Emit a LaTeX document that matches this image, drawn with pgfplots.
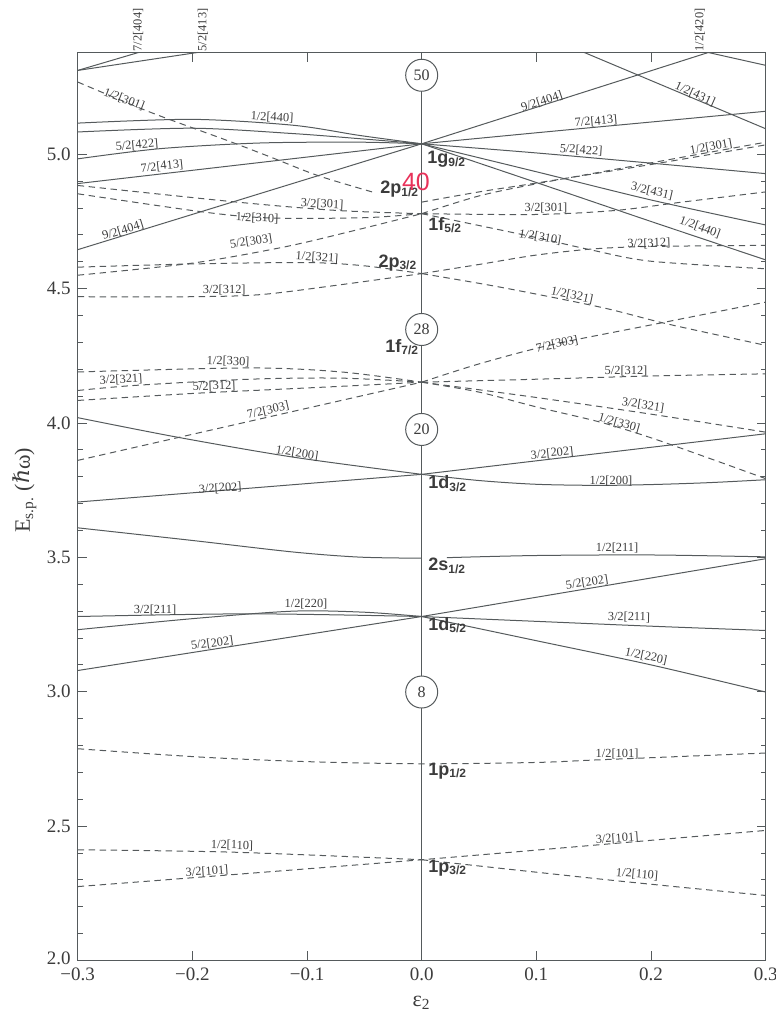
\documentclass[border=0pt]{standalone}
\usepackage{fontspec}
\setmainfont{Liberation Serif}
\newfontfamily\sansf{Liberation Sans}
\newfontfamily\dvs{DejaVu Serif}
\usepackage{pgfplots}
\pgfplotsset{compat=1.18}
\definecolor{lc}{RGB}{85,90,92}
\definecolor{tc}{RGB}{60,60,60}
\definecolor{rd}{RGB}{232,50,90}
\pgfplotsset{
  lv/.style={lc, line width=0.5pt, no marks, smooth},
  dv/.style={lv, dash pattern=on 3.2pt off 2.3pt},
}
\tikzset{
  nl/.style={font=\fontsize{6.2}{7}\selectfont, text=tc, inner sep=0.5pt},
  sl/.style={font=\sansf\bfseries\fontsize{9}{10}\selectfont, text=tc, inner sep=0pt, anchor=base west},
  mg/.style={circle, draw=lc, line width=0.5pt, fill=white, minimum size=16pt, inner sep=0pt, font=\fontsize{8}{9}\selectfont, text=tc},
}
\begin{document}
\begin{tikzpicture}
\begin{axis}[
  scale only axis, width=344pt, height=453.9pt,
  xmin=-0.3, xmax=0.3, ymin=2.0, ymax=5.378,
  clip mode=individual,
  axis line style={lc, line width=0.5pt},
  tick style={lc, line width=0.5pt},
  xtick={-0.3,-0.2,-0.1,0,0.1,0.2,0.3},
  xticklabels={−0.3,−0.2,−0.1,0.0,0.1,0.2,0.3},
  ytick={2.0,2.5,3.0,3.5,4.0,4.5,5.0},
  yticklabels={\raisebox{2.5pt}{2.0},2.5,3.0,3.5,4.0,4.5,5.0},
  minor y tick num=4,
  tick align=inside, tick pos=both,
  xticklabel pos=lower, yticklabel pos=left,
  major tick length=4.5pt, minor tick length=2.5pt,
  ticklabel style={font=\fontsize{9.5}{10}\selectfont, text=tc},
  xlabel={ε\textsubscript{2}},
  ylabel={E\textsubscript{s.p.} ({\dvs ℏ}ω)},
  label style={font=\fontsize{11}{12}\selectfont, text=tc},
  xlabel style={at={(axis description cs:0.5,-0.047)}, anchor=center},
  ylabel style={at={(axis description cs:-0.077,0.518)}, anchor=center},
]
% center line
\addplot[lv] coordinates {(0,2) (0,5.378)};
% ---- solid levels ----
\addplot[lv] coordinates {(-0.3,5.312) (-0.2,5.438)};
\addplot[lv] coordinates {(-0.3,5.312) (-0.15,5.408)};
\addplot[lv] coordinates {(-0.3,5.116) (-0.2,5.13) (-0.112,5.108) (-0.054,5.07) (0,5.039)};
\addplot[lv] coordinates {(-0.3,5.083) (-0.2,5.097) (-0.112,5.077) (-0.054,5.058) (0,5.039)};
\addplot[lv] coordinates {(-0.3,4.983) (-0.228,5.021) (-0.141,5.042) (-0.054,5.045) (0,5.039)};
\addplot[lv] coordinates {(-0.3,4.891) (0,5.039)};
\addplot[lv] coordinates {(-0.3,4.645) (0,5.039)};
\addplot[lv] coordinates {(0,5.039) (0.27,5.406)};
\addplot[lv] coordinates {(0.13,5.40) (0.3,5.095)};
\addplot[lv] coordinates {(0.235,5.393) (0.3,5.331)};
\addplot[lv] coordinates {(0,5.039) (0.1,5.08) (0.2,5.12) (0.3,5.16)};
\addplot[lv] coordinates {(0,5.039) (0.1,5.005) (0.2,4.967) (0.3,4.928)};
\addplot[lv] coordinates {(0,5.039) (0.1,4.935) (0.2,4.83) (0.3,4.737)};
\addplot[lv] coordinates {(0,5.039) (0.1,4.895) (0.2,4.75) (0.3,4.607)};
\addplot[lv] coordinates {(-0.3,4.02) (-0.214,3.948) (-0.112,3.873) (0,3.809)};
\addplot[lv] coordinates {(-0.3,3.706) (0,3.809)};
\addplot[lv] coordinates {(0,3.809) (0.3,3.96)};
\addplot[lv] coordinates {(0,3.809) (0.05,3.786) (0.1,3.772) (0.155,3.768) (0.2,3.771) (0.25,3.778) (0.3,3.789)};
\addplot[lv] coordinates {(-0.3,3.61) (-0.2,3.563) (-0.112,3.52) (-0.054,3.501) (0,3.497)};
\addplot[lv] coordinates {(0.022,3.499) (0.1,3.507) (0.2,3.509) (0.3,3.502)};
\addplot[lv] coordinates {(-0.3,3.28) (-0.15,3.29) (0,3.28)};
\addplot[lv] coordinates {(-0.3,3.231) (-0.2,3.272) (-0.112,3.30) (-0.05,3.296) (0,3.28)};
\addplot[lv] coordinates {(-0.3,3.079) (0,3.28)};
\addplot[lv] coordinates {(0,3.28) (0.3,3.495)};
\addplot[lv] coordinates {(0,3.28) (0.1,3.262) (0.2,3.244) (0.3,3.228)};
\addplot[lv] coordinates {(0,3.28) (0.1,3.19) (0.2,3.10) (0.3,2.999)};
% ---- dashed levels ----
\addplot[dv] coordinates {(-0.3,5.269) (-0.237,5.157) (-0.17,5.052) (-0.132,4.99) (-0.09,4.92) (-0.04,4.856)};
\addplot[dv] coordinates {(-0.3,4.884) (-0.161,4.822) (-0.074,4.791) (0,4.779)};
\addplot[dv] coordinates {(-0.3,4.853) (-0.19,4.785) (-0.132,4.763) (-0.05,4.764) (0,4.779)};
\addplot[dv] coordinates {(-0.3,4.55) (-0.2,4.595) (-0.12,4.655) (-0.06,4.715) (0,4.779)};
\addplot[dv] coordinates {(-0.3,4.58) (-0.2,4.592) (-0.1,4.597) (-0.05,4.585) (0,4.556)};
\addplot[dv] coordinates {(-0.3,4.47) (-0.2,4.47) (-0.14,4.478) (-0.07,4.515) (0,4.556)};
\addplot[dv] coordinates {(0,4.822) (0.05,4.86) (0.1,4.893) (0.2,4.962) (0.3,5.035)};
\addplot[dv] coordinates {(0,4.779) (0.05,4.845) (0.1,4.89) (0.2,4.968) (0.3,5.045)};
\addplot[dv] coordinates {(0,4.779) (0.1,4.776) (0.169,4.791) (0.227,4.822) (0.3,4.86)};
\addplot[dv] coordinates {(0,4.779) (0.05,4.735) (0.1,4.69) (0.15,4.642) (0.2,4.602) (0.3,4.574)};
\addplot[dv] coordinates {(0,4.556) (0.05,4.59) (0.1,4.625) (0.15,4.648) (0.2,4.657) (0.3,4.661)};
\addplot[dv] coordinates {(0,4.556) (0.068,4.506) (0.156,4.431) (0.214,4.369) (0.3,4.289)};
\addplot[dv] coordinates {(-0.3,4.19) (-0.15,4.205) (-0.07,4.19) (0,4.152)};
\addplot[dv] coordinates {(-0.3,4.121) (-0.25,4.14) (-0.15,4.163) (-0.07,4.167) (0,4.152)};
\addplot[dv] coordinates {(-0.3,4.084) (-0.2,4.11) (-0.132,4.124) (-0.054,4.14) (0,4.152)};
\addplot[dv] coordinates {(-0.3,3.861) (0,4.152)};
\addplot[dv] coordinates {(0,4.152) (0.05,4.22) (0.112,4.29) (0.2,4.365) (0.3,4.45)};
\addplot[dv] coordinates {(0,4.152) (0.1,4.163) (0.2,4.175) (0.3,4.183)};
\addplot[dv] coordinates {(0,4.152) (0.1,4.095) (0.2,4.033) (0.3,3.966)};
\addplot[dv] coordinates {(0,4.152) (0.05,4.115) (0.1,4.06) (0.156,4.003) (0.2,3.945) (0.25,3.87) (0.3,3.793)};
\addplot[dv] coordinates {(-0.3,2.788) (-0.193,2.757) (-0.1,2.74) (0,2.732) (0.1,2.737) (0.156,2.747) (0.3,2.772)};
\addplot[dv] coordinates {(-0.3,2.412) (-0.164,2.403) (0,2.375)};
\addplot[dv] coordinates {(0,2.375) (0.167,2.298) (0.3,2.242)};
\addplot[dv] coordinates {(-0.3,2.275) (0,2.375) (0.3,2.484)};
% ---- magic number circles ----
\node[mg] at (axis cs:0,5.294) {50};
\node[mg] at (axis cs:0,4.348) {28};
\node[mg] at (axis cs:0,3.976) {20};
\node[mg] at (axis cs:0,2.999) {8};
% ---- top labels ----
\node[nl, rotate=90, anchor=west, yshift=1pt] at (axis cs:-0.2456,5.378) {7/2[404]};
\node[nl, rotate=90, anchor=west, yshift=1pt] at (axis cs:-0.189,5.378) {5/2[413]};
\node[nl, rotate=90, anchor=west, yshift=1pt] at (axis cs:0.2444,5.378) {1/2[420]};
% ---- left labels ----
\node[nl, rotate=-21] at (axis cs:-0.2596,5.204) {1/2[301]};
\node[nl, rotate=-3] at (axis cs:-0.1305,5.137) {1/2[440]};
\node[nl, rotate=5] at (axis cs:-0.2483,5.033) {5/2[422]};
\node[nl, rotate=6] at (axis cs:-0.2265,4.955) {7/2[413]};
\node[nl, rotate=17] at (axis cs:-0.2605,4.717) {9/2[404]};
\node[nl, rotate=-3] at (axis cs:-0.0869,4.814) {3/2[301]};
\node[nl, rotate=-2] at (axis cs:-0.1436,4.762) {1/2[310]};
\node[nl, rotate=9] at (axis cs:-0.1488,4.676) {5/2[303]};
\node[nl, rotate=-4] at (axis cs:-0.0913,4.616) {1/2[321]};
\node[nl] at (axis cs:-0.1722,4.494) {3/2[312]};
\node[nl, rotate=-2] at (axis cs:-0.1688,4.229) {1/2[330]};
\node[nl, rotate=3] at (axis cs:-0.2622,4.162) {3/2[321]};
\node[nl, rotate=2] at (axis cs:-0.181,4.136) {5/2[312]};
\node[nl, rotate=13] at (axis cs:-0.1339,4.047) {7/2[303]};
\node[nl, rotate=-9] at (axis cs:-0.1087,3.887) {1/2[200]};
\node[nl, rotate=4] at (axis cs:-0.1757,3.757) {3/2[202]};
\node[nl] at (axis cs:-0.2325,3.303) {3/2[211]};
\node[nl] at (axis cs:-0.1009,3.325) {1/2[220]};
\node[nl, rotate=8] at (axis cs:-0.1827,3.180) {5/2[202]};
\node[nl, rotate=-1] at (axis cs:-0.1654,2.428) {1/2[110]};
\node[nl, rotate=4] at (axis cs:-0.1872,2.331) {3/2[101]};
% ---- right labels ----
\node[nl, rotate=18] at (axis cs:0.1049,5.197) {9/2[404]};
\node[nl, rotate=-24] at (axis cs:0.2383,5.223) {1/2[431]};
\node[nl, rotate=5] at (axis cs:0.152,5.122) {7/2[413]};
\node[nl, rotate=-4] at (axis cs:0.139,5.015) {5/2[422]};
\node[nl, rotate=10] at (axis cs:0.2523,5.026) {1/2[301]};
\node[nl, rotate=-13] at (axis cs:0.2008,4.862) {3/2[431]};
\node[nl] at (axis cs:0.1084,4.799) {3/2[301]};
\node[nl, rotate=-20] at (axis cs:0.2427,4.728) {1/2[440]};
\node[nl, rotate=-10] at (axis cs:0.1032,4.691) {1/2[310]};
\node[nl, rotate=2] at (axis cs:0.1982,4.668) {3/2[312]};
\node[nl, rotate=-12] at (axis cs:0.1311,4.475) {1/2[321]};
\node[nl, rotate=12] at (axis cs:0.118,4.293) {7/2[303]};
\node[nl] at (axis cs:0.1782,4.192) {5/2[312]};
\node[nl, rotate=-9] at (axis cs:0.193,4.066) {3/2[321]};
\node[nl, rotate=-16] at (axis cs:0.1722,3.999) {1/2[330]};
\node[nl, rotate=6] at (axis cs:0.1137,3.887) {3/2[202]};
\node[nl] at (axis cs:0.1651,3.786) {1/2[200]};
\node[nl] at (axis cs:0.1704,3.533) {1/2[211]};
\node[nl, rotate=9] at (axis cs:0.1442,3.407) {5/2[202]};
\node[nl, rotate=-1] at (axis cs:0.1808,3.277) {3/2[211]};
\node[nl, rotate=-12] at (axis cs:0.1957,3.131) {1/2[220]};
\node[nl] at (axis cs:0.1704,2.770) {1/2[101]};
\node[nl, rotate=4] at (axis cs:0.1704,2.454) {3/2[101]};
\node[nl, rotate=-5] at (axis cs:0.1878,2.320) {1/2[110]};
% ---- shell labels ----
\node[sl] at (axis cs:0.0047,4.965) {1g\textsubscript{9/2}};
\node[sl] at (axis cs:-0.0364,4.853) {2p\textsubscript{1/2}};
\node[sl] at (axis cs:0.0055,4.717) {1f\textsubscript{5/2}};
\node[sl] at (axis cs:-0.038,4.580) {2p\textsubscript{3/2}};
\node[sl] at (axis cs:-0.032,4.264) {1f\textsubscript{7/2}};
\node[sl] at (axis cs:0.0055,3.755) {1d\textsubscript{3/2}};
\node[sl] at (axis cs:0.0055,3.451) {2s\textsubscript{1/2}};
\node[sl] at (axis cs:0.0055,3.228) {1d\textsubscript{5/2}};
\node[sl] at (axis cs:0.0055,2.689) {1p\textsubscript{1/2}};
\node[sl] at (axis cs:0.0055,2.329) {1p\textsubscript{3/2}};
\node[font=\sansf\fontsize{12.5}{13}\selectfont, text=rd, inner sep=0pt] at (axis cs:-0.005,4.899) {40};
\end{axis}
\pgfresetboundingbox
\path[use as bounding box] (current axis.south west) ++(-38.85pt,-26.75pt) rectangle ++(388pt,507pt);
\end{tikzpicture}
\end{document}
